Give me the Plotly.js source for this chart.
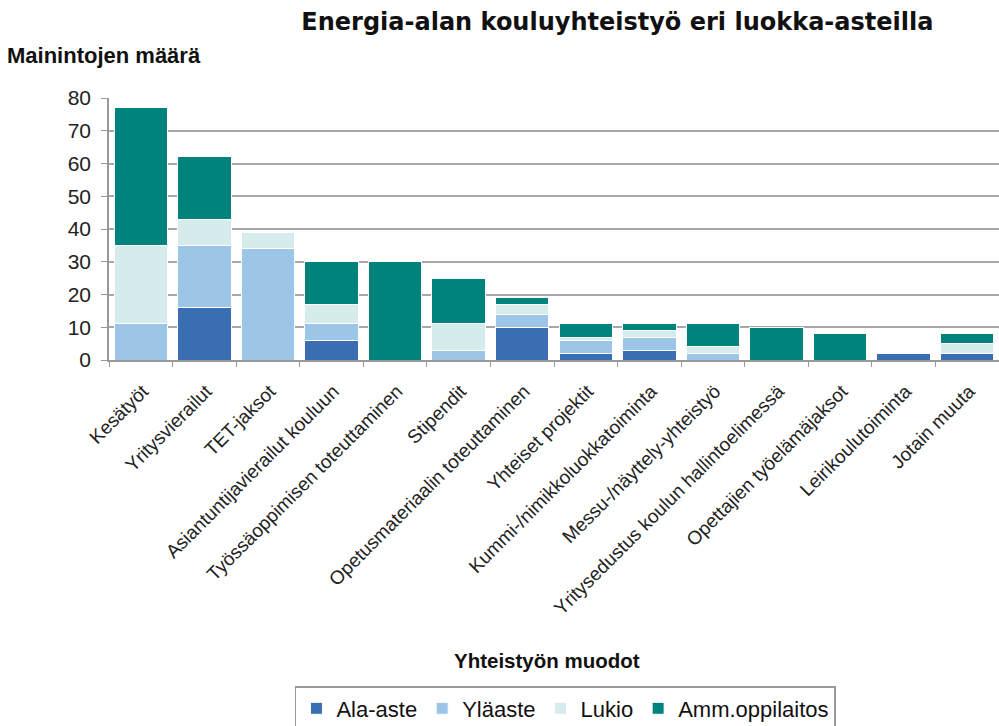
<!DOCTYPE html>
<html>
<head>
<meta charset="utf-8">
<script src="https://cdn.plot.ly/plotly-3.0.1.min.js"></script>
<style>html,body{margin:0;padding:0;background:#fff;}#chart{width:999px;height:726px;}</style>
</head>
<body>
<div id="chart"></div>
<script>
const categories = ["Kesätyöt","Yritysvierailut","TET-jaksot","Asiantuntijavierailut kouluun","Työssäoppimisen toteuttaminen","Stipendit","Opetusmateriaalin toteuttaminen","Yhteiset projektit","Kummi-/nimikkoluokkatoiminta","Messu-/näyttely-yhteistyö","Yritysedustus koulun hallintoelimessä","Opettajien työelämäjaksot","Leirikoulutoiminta","Jotain muuta"];
const alaAste      = [0, 16, 0, 6, 0, 0, 10, 2, 3, 0, 0, 0, 2, 2];
const ylaaste      = [11, 19, 34, 5, 0, 3, 4, 4, 4, 2, 0, 0, 0, 0];
const lukio        = [24, 8, 5, 6, 0, 8, 3, 1, 2, 2, 0, 0, 0, 3];
const ammOppilaitos= [42, 19, 0, 13, 30, 14, 2, 4, 2, 7, 10, 8, 0, 3];
const seriesNames  = ["Ala-aste","Yläaste","Lukio","Amm.oppilaitos"];
const yTicks = [0,10,20,30,40,50,60,70,80];

const colors = ["#3b6db3","#9cc5e8","#d6ecec","#00827d"];
const seriesData = [alaAste, ylaaste, lukio, ammOppilaitos];
const font = "Liberation Sans, Arial, sans-serif";

const traces = seriesData.map((vals, i) => ({
  type: "bar",
  name: seriesNames[i],
  x: categories,
  y: vals,
  marker: {color: colors[i], line: {color: "#ffffff", width: 1}},
  hoverinfo: "x+y+name"
}));

const layout = {
  width: 999, height: 726,
  margin: {l: 109, r: 0, t: 98, b: 365.5, pad: 0},
  paper_bgcolor: "#ffffff", plot_bgcolor: "#ffffff",
  barmode: "stack",
  bargap: 0.16,
  font: {family: font, color: "#1a1a1a"},
  title: {
    text: "<b>Energia-alan kouluyhteistyö eri luokka-asteilla</b>",
    font: {family: "DejaVu Sans, sans-serif", size: 24, color: "#111"},
    xref: "container", x: 0.618, xanchor: "center",
    yref: "container", y: 1 - 22/726, yanchor: "middle"
  },
  xaxis: {
    type: "category",
    tickangle: -45,
    tickfont: {family: font, size: 19, color: "#222"},
    ticklabelshift: 2,
    ticklabelstandoff: 11,
    ticks: "outside", tickson: "boundaries", ticklen: 5, tickcolor: "#999",
    showline: true, linecolor: "#999", linewidth: 1.5,
    showgrid: false, automargin: false,
    fixedrange: true
  },
  yaxis: {
    range: [0, 80],
    tickvals: yTicks,
    ticktext: yTicks.map(String),
    tickfont: {family: font, size: 21, color: "#222"},
    ticks: "outside", ticklen: 6, tickcolor: "#999",
    ticklabelstandoff: 6,
    showline: true, linecolor: "#999", linewidth: 1.5,
    showgrid: true, gridcolor: "#a8a8a8", gridwidth: 1.5,
    zeroline: false, automargin: false,
    fixedrange: true
  },
  legend: {
    orientation: "h",
    xref: "container", x: 0.566, xanchor: "center",
    yref: "container", y: 1 - 686/726, yanchor: "top",
    bordercolor: "#999", borderwidth: 1.5,
    font: {family: font, size: 22, color: "#111"},
    traceorder: "normal",
    itemclick: false
  },
  annotations: [
    {text: "<b>Mainintojen määrä</b>", xref: "paper", yref: "paper",
     x: (5-109)/890, xanchor: "left", y: (360.5-55)/262.5, yanchor: "middle",
     showarrow: false, font: {family: font, size: 22, color: "#111"}},
    {text: "<b>Yhteistyön muodot</b>", xref: "paper", yref: "paper",
     x: (547-109)/890, xanchor: "center", y: (360.5-662)/262.5, yanchor: "middle",
     showarrow: false, font: {family: font, size: 20.5, color: "#111"}}
  ],
  showlegend: true
};

Plotly.newPlot("chart", traces, layout, {displayModeBar: false, staticPlot: false});
</script>
</body>
</html>
